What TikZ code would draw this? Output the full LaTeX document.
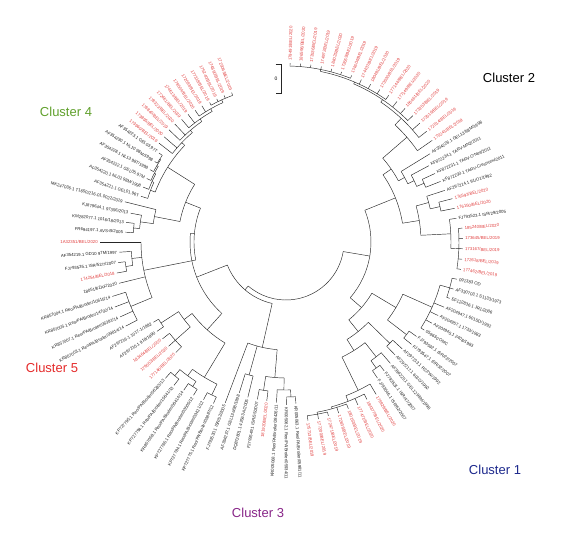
\documentclass[tikz,border=0pt]{standalone}
\usepackage{fontspec}
\setmainfont{Liberation Sans}
\definecolor{rd}{RGB}{224,60,60}
\definecolor{bk}{RGB}{30,30,30}
\definecolor{cfour}{RGB}{96,160,44}
\definecolor{cfive}{RGB}{228,42,42}
\definecolor{cthree}{RGB}{136,38,136}
\definecolor{cone}{RGB}{28,40,140}
\tikzset{
  br/.style={line width=0.45pt,draw=black!85},
  lbl/.style={font=\fontsize{4.3}{5}\selectfont,inner sep=0.3pt},
  clab/.style={font=\fontsize{13}{15}\selectfont,inner sep=0pt}
}
\newcommand\lf[5]{%
  \expandafter\xdef\csname TA@#1\endcsname{#2}%
  \expandafter\xdef\csname TR@#1\endcsname{#3}%
  \coordinate (#1) at (#2:#3);
  \pgfmathsetmacro\lfcos{cos(#2)}%
  \ifdim\lfcos pt<0pt
    \node[lbl,text=#4,rotate=#2+180,anchor=east] (#1t) at (#2:#3+1.8) {#5};
  \else
    \node[lbl,text=#4,rotate=#2,anchor=west] (#1t) at (#2:#3+1.8) {#5};
  \fi
}
\newcommand\nd[5]{%
  \edef\ndF{\csname TA@#3\endcsname}%
  \edef\ndL{\csname TA@#4\endcsname}%
  \pgfmathsetmacro\ndA{(\ndF+\ndL)/2}%
  \expandafter\xdef\csname TA@#1\endcsname{\ndA}%
  \expandafter\xdef\csname TR@#1\endcsname{#2}%
  \coordinate (#1) at (\ndA:#2);
  \draw[br] (\ndF:#2) arc[start angle=\ndF, end angle=\ndL, radius=#2];
  \foreach \ch in {#5}{\edef\chA{\csname TA@\ch\endcsname}\draw[br] (\chA:#2) -- (\ch);}
}
\begin{document}
\begin{tikzpicture}[x=1pt,y=1pt]
\useasboundingbox (0,0) rectangle (566,-537);
\begin{scope}[shift={(286,-242)}]
% ---- Cluster 2
\lf{l0}{88.7}{179}{rd}{179491/BEL/2020}
\lf{l1}{85.3}{179}{rd}{186596/BEL/2020}
\lf{l2}{82.0}{179}{rd}{173536/BEL/2019}
\lf{l3}{78.6}{179}{rd}{174972/BEL/2019}
\lf{l4}{75.2}{179}{rd}{184025/BEL/2020}
\lf{l5}{71.9}{179}{rd}{172659/BEL/2019}
\lf{l6}{68.5}{179}{rd}{174604/BEL/2019}
\lf{l7}{65.1}{179}{rd}{174437/BEL/2019}
\lf{l8}{61.8}{179}{rd}{180491/BEL/2020}
\lf{l9}{58.4}{179}{rd}{173530/BEL/2019}
\lf{l10}{55.0}{179}{rd}{177144/BEL/2020}
\lf{l11}{51.7}{179}{rd}{177149/BEL/2020}
\lf{l12}{48.3}{179}{rd}{180461/BEL/2020}
\lf{l13}{44.9}{179}{rd}{173253/BEL/2019}
\lf{l14}{41.6}{179}{rd}{173516/BEL/2019}
\lf{l15}{38.2}{179}{rd}{172514/BEL/2019}
\lf{l16}{34.8}{178}{rd}{175241/BEL/2019}
\lf{l17}{31.5}{169}{bk}{AF354226.1 GEL13/98M/1998}
\lf{l18}{28.1}{162}{bk}{KF872234.1 TARV-MN2/2011}
\lf{l19}{24.7}{164}{bk}{KF872231.1 TARV-O'Neil/2011}
\lf{l20}{21.4}{166}{bk}{KF872230.1 TARV-Crestview/2011}
\lf{l21}{18.0}{167}{bk}{AF297214.1 91/O1/1992}
\lf{l22}{14.6}{172}{rd}{176593/BEL/2020}
\lf{l23}{11.3}{172}{rd}{176150/BEL/2020}
\lf{l24}{7.9}{172}{bk}{FJ793523.1 ISR/29/2005}
\lf{l25}{4.5}{177}{rd}{185240/BEL/2020}
\lf{l26}{1.2}{177}{rd}{173645/BEL/2019}
\lf{l27}{-2.2}{177}{rd}{173167/BEL/2019}
\lf{l28}{-5.6}{177}{rd}{172618/BEL/2019}
\lf{l29}{-8.9}{177}{rd}{177462/BEL/2019}
% ---- Cluster 1
\lf{l30}{-12.3}{175}{bk}{091383 OD}
\lf{l31}{-15.7}{174}{bk}{AF330703.1 S1133/1973}
\lf{l32}{-19.0}{173}{bk}{EF122836.1 JR1/2006}
\lf{l33}{-22.4}{171}{bk}{AF204947.1 601SD/1992}
\lf{l34}{-25.8}{169}{bk}{AF204957.1 1733/1983}
\lf{l35}{-29.1}{167}{bk}{AF204945.1 2408/1983}
\lf{l36}{-32.5}{164}{bk}{059630 OMC}
\lf{l37}{-35.9}{161}{bk}{FJ793532.1 ISR/22/2007}
\lf{l38}{-39.2}{162}{bk}{FJ793547.1 ISR/32/2007}
\lf{l39}{-42.6}{158}{bk}{AF297213.1 R2/TW/1992}
\lf{l40}{-46.0}{157}{bk}{AF297217.1 601G/1992}
\lf{l41}{-49.3}{160}{bk}{AF354225.1 GEL12 98M/1998}
\lf{l42}{-52.7}{162}{bk}{FJ793531.1 ISR/47/2007}
\lf{l43}{-56.1}{164}{bk}{FJ793546.1 ISR/62/2007}
\lf{l44}{-59.4}{177}{rd}{179929/BEL/2020}
\lf{l45}{-62.8}{177}{rd}{184377/BEL/2020}
\lf{l46}{-66.2}{178}{rd}{177471/BEL/2020}
\lf{l47}{-69.5}{178}{rd}{180163/BEL/2019}
\lf{l48}{-72.9}{179}{rd}{172838/BEL/2019}
\lf{l49}{-76.3}{179}{rd}{172471/BEL/2019}
\lf{l50}{-79.6}{180}{rd}{177200/BEL/2019}
\lf{l51}{-83.0}{180}{rd}{175713/BEL/2019}
% ---- Cluster 3 / 5
\lf{l52}{-86.5}{162}{bk}{KR005063.1 Reo/PA/Broiler/05981/11}
\lf{l53}{-89.9}{163}{bk}{KR005062.1 Reo/PA/Broiler/05934/11}
\lf{l54}{-93.4}{161}{bk}{KR005068.1 Reo/PA/Broiler/28426/11}
\lf{l55}{-96.9}{160}{rd}{181920/BEL/2020}
\lf{l56}{-100.3}{160}{bk}{FJ793549.1 ISR/55/2007}
\lf{l57}{-103.8}{160}{bk}{DQ872801.1 42563-A/2005}
\lf{l58}{-107.2}{158}{bk}{AF354237.1 GEL13a/98/1998}
\lf{l59}{-110.7}{172}{bk}{FJ793530.1 ISR/52/2005}
\lf{l60}{-114.2}{177}{bk}{KP727775.1 Reo/PA/Broiler/03887/12}
\lf{l61}{-117.6}{178}{bk}{KP727784.1 Reo/PA/Broiler/03421/12}
\lf{l62}{-121.1}{179}{bk}{KP727765.1 Reo/PA/Broiler/03505/12}
\lf{l63}{-124.6}{180}{bk}{KR857058.1 Reo/PA/Broiler/06414/14}
\lf{l64}{-128.0}{182}{bk}{KP727794.1 Reo/PA/Broiler/15641/13}
\lf{l65}{-131.5}{182}{bk}{KP727795.1 Reo/PA/Broiler/06283/13}
\lf{l66}{-134.9}{156}{rd}{177146/BEL/2020}
\lf{l67}{-138.4}{157}{rd}{179053/BEL/2020}
\lf{l68}{-141.9}{157}{rd}{183464/BEL/2020}
\lf{l69}{-145.3}{157}{bk}{AF297215.1 919/1990}
\lf{l70}{-148.8}{155}{bk}{AF297216.1 1017-1/1992}
\lf{l71}{-152.3}{181}{bk}{KR857003.1 Reo/PA/Broiler/09814/14}
\lf{l72}{-155.7}{182}{bk}{KR857007.1 Reo/PA/Broiler/06391/14}
\lf{l73}{-159.2}{183}{bk}{KR857005.1 Reo/PA/Broiler/14702/14}
\lf{l74}{-162.6}{182}{bk}{KR857004.1 Reo/PA/Broiler/10615/14}
\lf{l75}{-166.1}{172}{bk}{180519/ZAF/2020}
\lf{l76}{-169.6}{172}{rd}{174254/BEL/2018}
\lf{l77}{-173.0}{169}{bk}{FJ793535.1 ISR/52/7/2007}
\lf{l78}{-176.5}{167}{bk}{AF354219.1 GD10 97M/1997}
\lf{l79}{-180.0}{186}{rd}{1A32351/BEL/2020}
% ---- Cluster 4
\lf{l80}{-183.5}{161}{bk}{FR694197.1 AVS-B/2005}
\lf{l81}{-187.0}{161}{bk}{KM282077.1 1016/18/2013}
\lf{l82}{-190.5}{158}{bk}{KJ879644.1 97356/2013}
\lf{l83}{-194.0}{166}{bk}{MK247036.1 T1650/216-01.0022/2019}
\lf{l84}{-197.5}{152}{bk}{AF354221.1 GEL01.96T}
\lf{l85}{-201.0}{153}{bk}{AF354220.1 NL02 98M/1998}
\lf{l86}{-204.5}{153}{bk}{AF354222.1 GEL05.97M}
\lf{l87}{-208.0}{154}{bk}{AF354228.1 NL13 98T/1998}
\lf{l88}{-211.5}{154}{bk}{AF354230.1 NL10 98M/1998}
\lf{l89}{-215.0}{155}{bk}{AF354223.1 GEL03.97T}
\lf{l90}{-217.9}{161}{rd}{173960/BEL/2019}
\lf{l91}{-220.8}{161}{rd}{173895/BEL/2020}
\lf{l92}{-223.8}{162}{rd}{176840/BEL/2019}
\lf{l93}{-226.7}{162}{rd}{178321/BEL/2020}
\lf{l94}{-229.6}{161}{rd}{172461/BEL/2019}
\lf{l95}{-232.5}{161}{rd}{174613/BEL/2019}
\lf{l96}{-235.4}{160}{rd}{179504/BEL/2020}
\lf{l97}{-238.3}{160}{rd}{172093/BEL/2019}
\lf{l98}{-241.3}{159}{rd}{177318/BEL/2019}
\lf{l99}{-244.2}{159}{rd}{175240/BEL/2019}
\lf{l100}{-247.1}{159}{rd}{174890/BEL/2019}
\lf{l101}{-250.0}{159}{rd}{172306/BEL/2019}
% ---- internal nodes: cluster 2
\nd{A1}{176}{l0}{l6}{l0,l1,l2,l3,l4,l5,l6}
\nd{A2}{174}{A1}{l10}{A1,l7,l8,l9,l10}
\nd{A3}{172}{A2}{l13}{A2,l11,l12,l13}
\nd{A4}{169}{A3}{l15}{A3,l14,l15}
\nd{A5}{160}{A4}{l16}{A4,l16}
\nd{B1}{150}{l19}{l20}{l19,l20}
\nd{B2}{142}{l18}{B1}{l18,B1}
\nd{B3}{135}{l17}{B2}{l17,B2}
\nd{AB}{128}{A5}{B3}{A5,B3}
\nd{D1}{158}{l22}{l23}{l22,l23}
\nd{D2}{148}{l21}{D1}{l21,D1}
\nd{E1}{173}{l25}{l29}{l25,l26,l27,l28,l29}
\nd{E2}{165}{l24}{E1}{l24,E1}
\nd{D3}{135}{D2}{E2}{D2,E2}
\nd{C2}{118}{AB}{D3}{AB,D3}
% cluster 1
\nd{F1}{170}{l30}{l32}{l30,l31,l32}
\nd{F2}{160}{F1}{l36}{F1,l33,l34,l35,l36}
\nd{F3}{152}{l37}{l38}{l37,l38}
\nd{F4}{128}{F2}{F3}{F2,F3}
\nd{G1}{155}{l42}{l43}{l42,l43}
\nd{G2}{146}{l41}{G1}{l41,G1}
\nd{G3}{145}{l39}{l40}{l39,l40}
\nd{Ha}{175}{l49}{l51}{l49,l50,l51}
\nd{Hb}{173}{l47}{Ha}{l47,l48,Ha}
\nd{Hc}{171}{l45}{Hb}{l45,l46,Hb}
\nd{Hd}{165}{l44}{Hc}{l44,Hc}
\nd{Yn}{128}{G2}{Hd}{G2,Hd}
\nd{Xn}{115}{G3}{Yn}{G3,Yn}
\nd{C1}{100}{F4}{Xn}{F4,Xn}
\nd{Rt}{85}{C2}{C1}{C2,C1}
% cluster 3
\nd{T1}{155}{l52}{l53}{l52,l53}
\nd{T2}{148}{T1}{l54}{T1,l54}
\nd{T3}{150}{l55}{l56}{l55,l56}
\nd{T4}{136}{T2}{T3}{T2,T3}
\nd{T5}{138}{l57}{l58}{l57,l58}
\nd{Tn}{108}{T4}{l59}{T4,T5,l59}
% cluster 5 lower + KP group
\nd{KPa}{170}{l60}{l61}{l60,l61}
\nd{KPb}{172}{l62}{l63}{l62,l63}
\nd{KPc}{174}{l64}{l65}{l64,l65}
\nd{KPd}{166}{KPb}{KPc}{KPb,KPc}
\nd{KPe}{158}{KPa}{KPd}{KPa,KPd}
\nd{Uc}{148}{l66}{l68}{l66,l67,l68}
\nd{Ub}{149}{l69}{l70}{l69,l70}
\nd{Ua}{128}{Uc}{Ub}{Uc,Ub}
\nd{Wn}{118}{KPe}{Ua}{KPe,Ua}
% upper-left group
\nd{KR}{168}{l71}{l74}{l71,l72,l73,l74}
\nd{O1}{162}{l76}{l77}{l76,l77}
\nd{O2}{155}{O1}{l78}{O1,l78}
\nd{O3}{145}{KR}{l79}{KR,l75,O2,l79}
% cluster 4
\nd{K1}{153}{l80}{l81}{l80,l81}
\nd{K2}{147}{K1}{l82}{K1,l82}
\nd{K3}{134}{K2}{l83}{K2,l83}
\nd{M1}{151}{l88}{l89}{l88,l89}
\nd{M2}{150}{l87}{M1}{l87,M1}
\nd{M3}{148.5}{l86}{M2}{l86,M2}
\nd{M4}{147}{l85}{M3}{l85,M3}
\nd{M5}{145}{l84}{M4}{l84,M4}
\nd{N1}{156}{l98}{l101}{l98,l99,l100,l101}
\nd{N2}{153}{l96}{N1}{l96,l97,N1}
\nd{N3}{150}{l94}{N2}{l94,l95,N2}
\nd{N4}{147}{l92}{N3}{l92,l93,N3}
\nd{N5}{144}{l90}{N4}{l90,l91,N4}
\nd{C4t}{140}{M5}{N5}{M5,N5}
\nd{C4}{108}{K3}{C4t}{K3,C4t}
% backbone
\nd{L1}{92}{C4}{O3}{C4,O3}
\nd{Ln}{96}{L1}{Wn}{L1,Wn}
\nd{Z1}{63}{Ln}{Tn}{Ln,Tn}
\nd{Root}{58}{Z1}{Rt}{Z1,Rt}
\end{scope}
% scale bar
\coordinate (sb1) at (281.5,-64);
\coordinate (sb2) at (281.5,-93);
\coordinate (sb0) at (275.5,-64);
\coordinate (sb3) at (275.5,-93);
\draw[br] (sb0) -- (sb1) -- (sb2) -- (sb3);
\node[lbl,font=\fontsize{5}{6}\selectfont] (sb) at (276,-79) {0};
% cluster labels
\node[clab,text=black] (k2) at (509,-78) {Cluster 2};
\node[clab,text=cfour] (k4) at (66,-112) {Cluster 4};
\node[clab,text=cfive] (k5) at (52,-368) {Cluster 5};
\node[clab,text=cthree] (k3) at (258,-513) {Cluster 3};
\node[clab,text=cone] (k1) at (495,-470) {Cluster 1};
\end{tikzpicture}
\end{document}
